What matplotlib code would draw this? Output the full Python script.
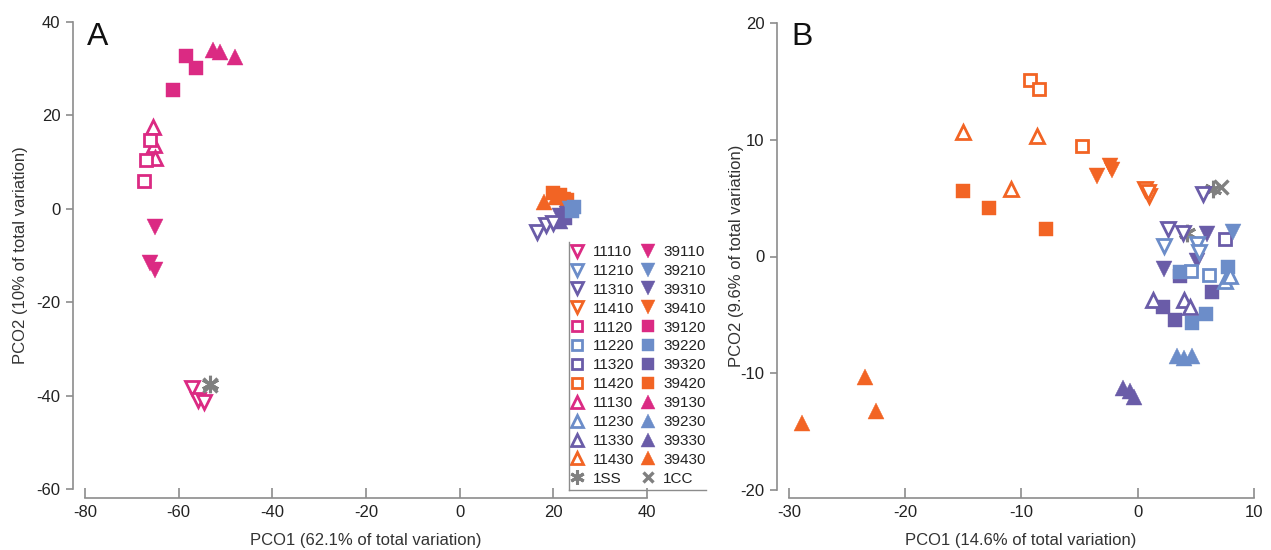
import matplotlib
matplotlib.use("Agg")
import matplotlib.pyplot as plt
from matplotlib.lines import Line2D

plt.rcParams['font.family'] = ['Liberation Sans', 'DejaVu Sans']
plt.rcParams['axes.unicode_minus'] = False

# ---- data: panel A (PCO1 62.1%, PCO2 10%) ----
a_group = (['39120'] * 3 + ['39130'] * 3 + ['11130'] * 3 + ['11120'] * 3 +
           ['39110'] * 3 + ['11110'] * 3 + ['1SS', '1CC'] +
           ['39430'] * 3 + ['39420'] * 3 + ['39410'] + ['39310'] * 2 +
           ['39330'] + ['39320'] + ['11310'] * 3 + ['39220'] * 2 +
           ['39210'])
a_x = [-58.4, -56.3, -61.2, -52.7, -51.2, -48.0, -65.5, -65.3, -65.1,
       -66.1, -67.0, -67.4, -65.1, -66.1, -65.1, -57.2, -55.9, -54.6,
       -53.4, -53.3,
       18.0, 20.5, 23.0, 20.0, 21.5, 23.0, 22.0, 21.5, 23.0,
       21.5, 22.5, 16.5, 18.5, 20.0, 24.0, 24.5, 23.5]
a_y = [32.7, 30.1, 25.4, 34.0, 33.6, 32.5, 17.5, 13.7, 10.9,
       14.7, 10.4, 6.0, -3.9, -11.6, -13.1, -38.4, -40.9, -41.4,
       -37.6, -37.7,
       1.5, 2.5, 1.5, 3.5, 3.0, 2.0, 2.0, -1.5, -1.0,
       -2.5, -2.0, -5.0, -3.5, -3.0, -0.5, 0.5, 0.0]

# ---- data: panel B (PCO1 14.6%, PCO2 9.6%) ----
b_group = (['11420'] * 3 + ['11430'] * 3 + ['39420'] * 3 + ['39410'] * 3 +
           ['11410'] * 3 + ['39430'] * 3 + ['1SS', '1SS', '1CC'] +
           ['11310'] * 3 + ['39310'] * 3 + ['11320'] + ['39320'] * 4 +
           ['11330'] * 3 + ['39330'] * 3 + ['11210'] * 3 + ['39210'] +
           ['11220'] * 2 + ['39220'] * 4 + ['39230'] * 3 + ['11230'] * 2)
b_x = [-9.3, -8.5, -4.8, -15.0, -8.7, -10.9, -15.0, -12.8, -7.9,
       -3.5, -2.4, -2.2, 0.6, 1.0, 0.9, -23.5, -22.5, -28.9,
       4.2, 6.5, 7.2,
       5.6, 2.6, 3.9, 6.0, 2.3, 5.1, 7.5, 2.2, 3.2, 6.4, 3.6,
       1.3, 4.0, 4.5, -1.3, -0.7, -0.3,
       2.3, 5.1, 5.3, 8.2, 4.6, 6.1,
       3.6, 5.9, 4.7, 7.8, 3.4, 4.0, 4.7, 7.5, 7.9]
b_y = [15.1, 14.4, 9.5, 10.7, 10.3, 5.8, 5.6, 4.2, 2.4,
       6.9, 7.8, 7.4, 5.8, 5.2, 5.5, -10.3, -13.2, -14.3,
       2.0, 5.8, 6.0,
       5.4, 2.4, 2.0, 1.9, -1.1, -0.4, 1.5, -4.3, -5.4, -3.0, -1.7,
       -3.7, -3.7, -4.3, -11.3, -11.5, -12.0,
       0.9, 1.1, 0.4, 2.1, -1.2, -1.6,
       -1.3, -4.9, -5.7, -0.9, -8.5, -8.7, -8.5, -2.1, -1.7]

legend_order = ['11110', '11210', '11310', '11410', '11120', '11220', '11320',
                '11420', '11130', '11230', '11330', '11430', '1SS',
                '39110', '39210', '39310', '39410', '39120', '39220', '39320',
                '39420', '39130', '39230', '39330', '39430', '1CC']

COLORS = {'1': '#DB2A83', '2': '#6C8DC9', '3': '#6A5CA8', '4': '#F26424'}
SHAPES = {'1': 'v', '2': 's', '3': '^'}
GRAY = '#808080'
SPINE = '#8C8C8C'


def style(code):
    if code == '1SS':
        return dict(marker=(6, 2, 0), color=GRAY, mec=GRAY, ms=12.5, mew=2.2)
    if code == '1CC':
        return dict(marker='x', color=GRAY, mec=GRAY, ms=9.5, mew=2.4)
    col = COLORS[code[2]]
    shape = SHAPES[code[3]]
    ms = 10.5 if shape == 's' else 12
    if code.startswith('11'):
        return dict(marker=shape, color=col, mfc='white', mec=col, ms=ms - 1.5,
                    mew=2.0)
    return dict(marker=shape, color=col, mfc=col, mec=col, ms=ms, mew=0.3)


def scatter_groups(ax, groups, xs, ys):
    for code in dict.fromkeys(groups):
        px = [x for g, x in zip(groups, xs) if g == code]
        py = [y for g, y in zip(groups, ys) if g == code]
        ax.plot(px, py, ls='none', **style(code), zorder=3)


def setup(ax, xb, yb, xticks, yticks, xlabel, ylabel, xlc, ylc):
    for s in ('top', 'right'):
        ax.spines[s].set_visible(False)
    ax.spines['left'].set_bounds(*yb)
    ax.spines['bottom'].set_bounds(*xb)
    for s in ('left', 'bottom'):
        ax.spines[s].set_color(SPINE)
        ax.spines[s].set_linewidth(1.2)
    ax.set_xticks(xticks)
    ax.set_yticks(yticks)
    ax.tick_params(axis='y', direction='out', length=5, width=1.2,
                   color=SPINE, labelsize=12, pad=4, labelcolor='#222222')
    ax.tick_params(axis='x', direction='in', length=7, width=1.2,
                   color=SPINE, labelsize=12, pad=5, labelcolor='#222222')
    ax.set_xlabel(xlabel, fontsize=12, color='#333333')
    ax.set_ylabel(ylabel, fontsize=12, color='#333333')
    ax.xaxis.set_label_coords(*xlc)
    ax.yaxis.set_label_coords(*ylc)


W, H = 1271, 550
fig = plt.figure(figsize=(W / 100, H / 100), dpi=100)


def add_axes_px(left, top, right, bottom):
    return fig.add_axes([left / W, 1 - bottom / H, (right - left) / W,
                         (bottom - top) / H])


# panel A
ax_a = add_axes_px(73, 15, 710, 498)
ax_a.set_xlim(-82.56, 53.45)
ax_a.set_ylim(-61.9, 41.5)
scatter_groups(ax_a, a_group, a_x, a_y)
setup(ax_a, (-80, 40), (-60, 40), range(-80, 41, 20), range(-60, 41, 20),
      'PCO1 (62.1% of total variation)', 'PCO2 (10% of total variation)',
      ((366 - 73) / 637, -0.072), (-0.070, 0.502))
ax_a.text(0.022, 0.985, 'A', transform=ax_a.transAxes, fontsize=23,
          va='top', ha='left', color='#111111')

# panel B
ax_b = add_axes_px(777, 15, 1262, 498)
ax_b.set_xlim(-31.03, 10.69)
ax_b.set_ylim(-20.7, 20.7)
scatter_groups(ax_b, b_group, b_x, b_y)
setup(ax_b, (-30, 10), (-20, 20), range(-30, 11, 10), range(-20, 21, 10),
      'PCO1 (14.6% of total variation)', 'PCO2 (9.6% of total variation)',
      ((1021 - 777) / 485, -0.072), (-0.068, 0.502))
ax_b.text(0.03, 0.985, 'B', transform=ax_b.transAxes, fontsize=23,
          va='top', ha='left', color='#111111')

# legend (panel A), left + bottom border only
handles = []
for code in legend_order:
    st = style(code)
    st['ms'] = st['ms'] * 0.82
    handles.append(Line2D([], [], ls='none', **st))
leg = ax_a.legend(handles, legend_order, ncol=2, frameon=False, fontsize=11,
                  loc='upper left', bbox_to_anchor=(570 / W, 1 - 245 / H),
                  bbox_transform=fig.transFigure, borderpad=0, borderaxespad=0,
                  handlelength=0.95, handletextpad=0.55, columnspacing=0.4,
                  labelspacing=0.32)
for t in leg.get_texts():
    t.set_color('#222222')

fig.add_artist(Line2D([569 / W, 569 / W], [1 - 242 / H, 1 - 490 / H],
                      color=SPINE, lw=1.0, transform=fig.transFigure))
fig.add_artist(Line2D([569 / W, 706 / W], [1 - 490 / H, 1 - 490 / H],
                      color=SPINE, lw=1.0, transform=fig.transFigure))

fig.savefig('out.png', dpi=100, facecolor='white')
